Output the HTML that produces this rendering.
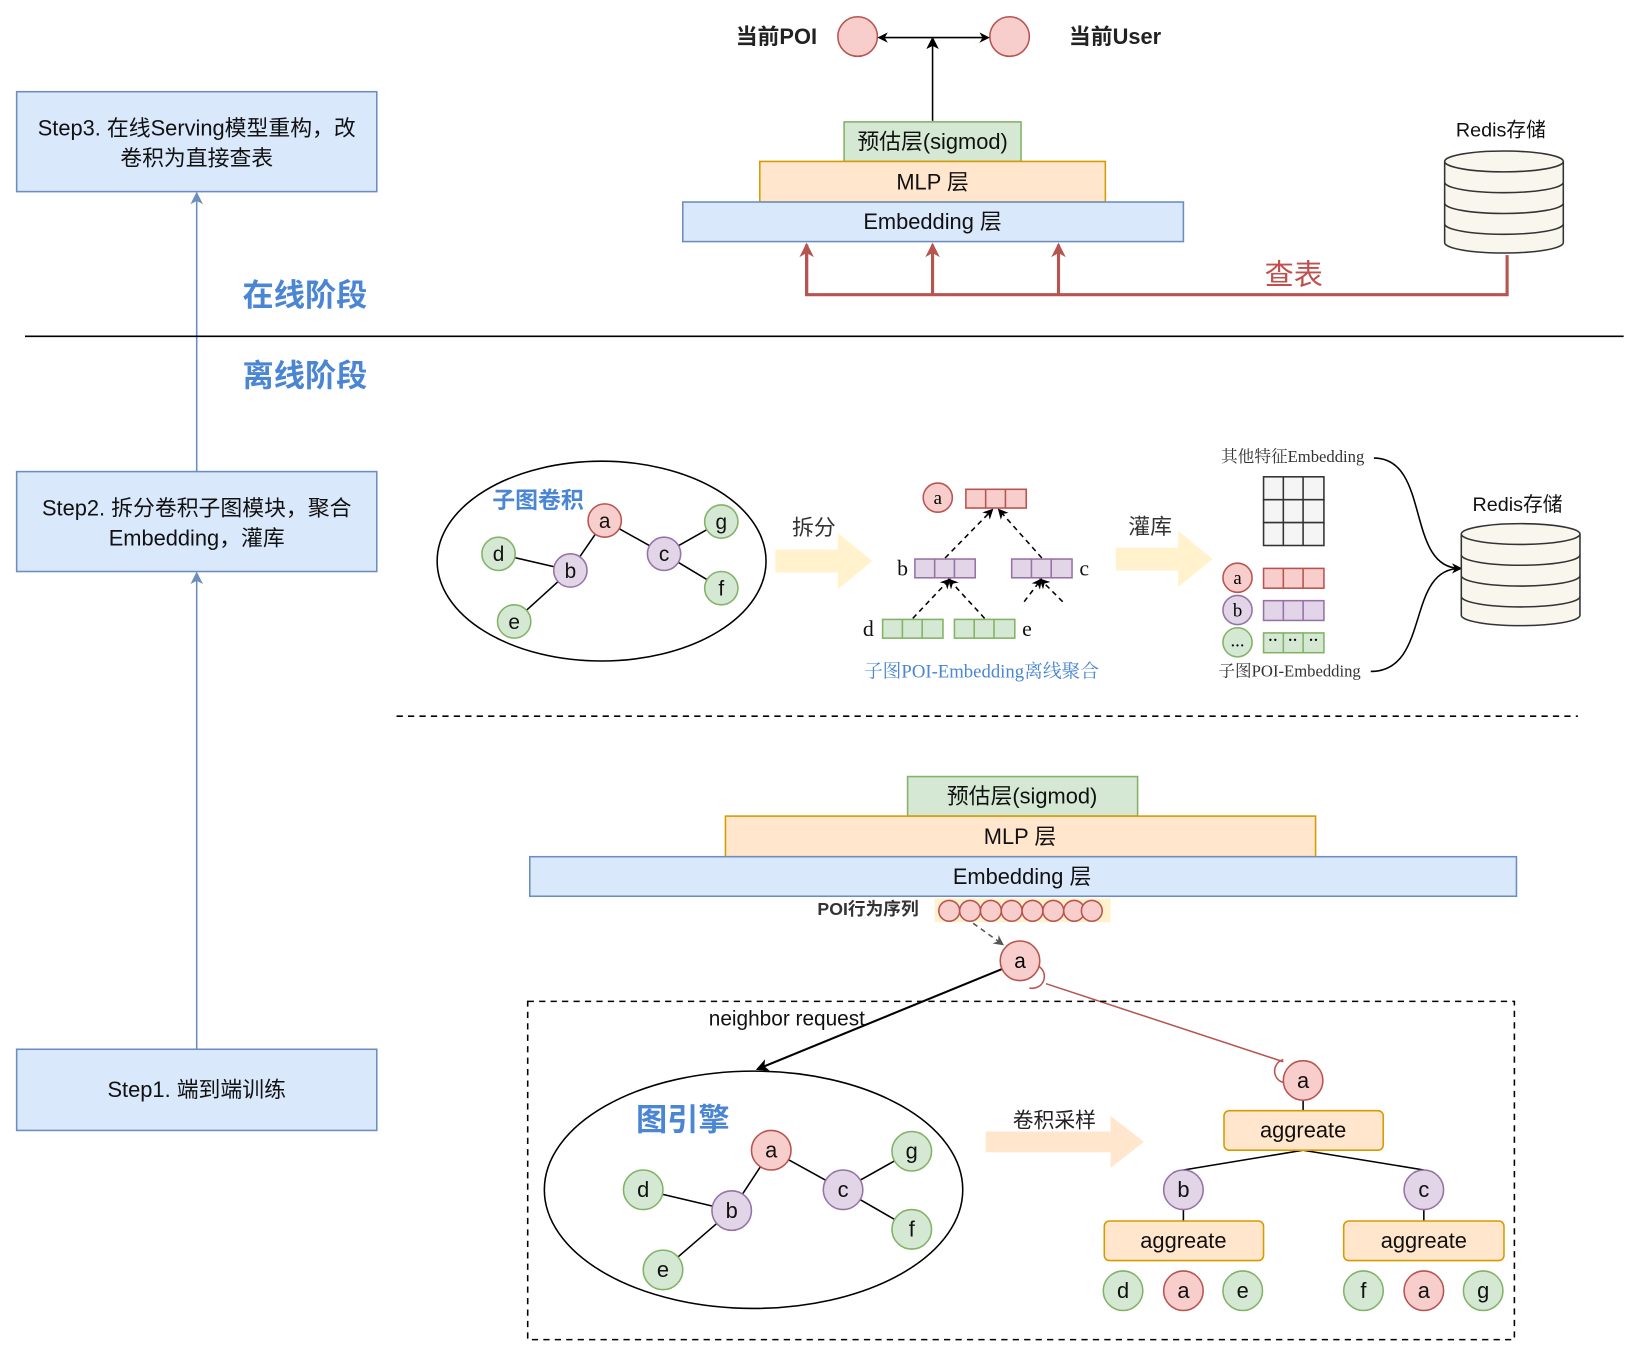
<!DOCTYPE html>
<html><head><meta charset="utf-8"><style>html,body{margin:0;padding:0;background:#fff}svg{display:block}</style></head><body>
<svg width="1632" height="1346" viewBox="0 0 1568 1293" xmlns="http://www.w3.org/2000/svg" font-family="Liberation Sans, Noto Sans CJK SC, sans-serif">
<defs>
<marker id="ab" markerWidth="10" markerHeight="10" refX="8" refY="5" orient="auto" markerUnits="userSpaceOnUse"><path d="M0,0 L10,5 L0,10 L3,5z" fill="#000"/></marker>
<marker id="ab2" markerWidth="12" markerHeight="12" refX="10" refY="6" orient="auto" markerUnits="userSpaceOnUse"><path d="M0,0 L12,6 L0,12 L3,6z" fill="#000"/></marker>
<marker id="ag" markerWidth="10" markerHeight="10" refX="8" refY="5" orient="auto" markerUnits="userSpaceOnUse"><path d="M0,0 L10,5 L0,10 L3,5z" fill="#555"/></marker>
<marker id="abl" markerWidth="12" markerHeight="12" refX="10" refY="6" orient="auto" markerUnits="userSpaceOnUse"><path d="M0,0 L12,6 L0,12 L3,6z" fill="#6c8ebf"/></marker>
<marker id="ar" markerWidth="14" markerHeight="14" refX="12" refY="7" orient="auto" markerUnits="userSpaceOnUse"><path d="M0,0 L14,7 L0,14 L4,7z" fill="#b85450"/></marker>
</defs>
<g stroke="#6c8ebf" stroke-width="1.5" fill="#dae8fc">
<rect x="16" y="88" width="346" height="96"/><rect x="16" y="453" width="346" height="96"/><rect x="16" y="1008" width="346" height="78"/>
</g>
<line x1="189" y1="1008" x2="189" y2="551" stroke="#6c8ebf" stroke-width="1.5" marker-end="url(#abl)"/>
<line x1="189" y1="453" x2="189" y2="186" stroke="#6c8ebf" stroke-width="1.5" marker-end="url(#abl)"/>
<g font-size="21" fill="#111" text-anchor="middle">
<text x="189" y="130">Step3. 在线Serving模型重构，改</text><text x="189" y="159">卷积为直接查表</text>
<text x="189" y="495">Step2. 拆分卷积子图模块，聚合</text><text x="189" y="524">Embedding，灌库</text>
<text x="189" y="1054">Step1. 端到端训练</text>
</g>
<g font-size="30" font-weight="bold" fill="#4a86d4"><text x="233" y="294">在线阶段</text><text x="233" y="371">离线阶段</text></g>
<line x1="24" y1="323" x2="1560" y2="323" stroke="#000" stroke-width="1.5"/>
<g fill="#f8cecc" stroke="#b85450" stroke-width="1.5"><circle cx="824" cy="35" r="19"/><circle cx="970" cy="35" r="19"/></g>
<line x1="896" y1="36" x2="845" y2="36" stroke="#000" stroke-width="1.5" marker-end="url(#ab)"/>
<line x1="896" y1="36" x2="949" y2="36" stroke="#000" stroke-width="1.5" marker-end="url(#ab)"/>
<line x1="896" y1="116" x2="896" y2="37" stroke="#000" stroke-width="1.5" marker-end="url(#ab2)"/>
<g font-size="21" font-weight="bold" fill="#222"><text x="785" y="42" text-anchor="end">当前POI</text><text x="1027" y="42">当前User</text></g>
<rect x="811" y="117" width="170" height="38" fill="#d5e8d4" stroke="#82b366" stroke-width="1.5"/>
<rect x="730" y="155" width="332" height="39" fill="#ffe6cc" stroke="#d79b00" stroke-width="1.5"/>
<rect x="656" y="194" width="481" height="38" fill="#dae8fc" stroke="#6c8ebf" stroke-width="1.5"/>
<g font-size="21" fill="#111" text-anchor="middle"><text x="896" y="143">预估层(sigmod)</text><text x="896" y="182">MLP 层</text><text x="896" y="220">Embedding 层</text></g>
<g stroke="#b85450" stroke-width="3" fill="none">
<polyline points="775,235 775,283 1448,283 1448,245"/>
<line x1="896" y1="283" x2="896" y2="235" marker-end="url(#ar)"/>
<line x1="1017" y1="283" x2="1017" y2="235" marker-end="url(#ar)"/>
<line x1="775" y1="283" x2="775" y2="235" marker-end="url(#ar)"/>
</g>
<text x="1243" y="273" font-size="28" fill="#c0504d" text-anchor="middle">查表</text>
<g fill="#f9f7ed" stroke="#333" stroke-width="1.5">
<path d="M1388,155 v78 a57,10 0 0 0 114,0 v-78"/><ellipse cx="1445" cy="155" rx="57" ry="10"/>
<path d="M1388,175 a57,10 0 0 0 114,0 M1388,195 a57,10 0 0 0 114,0 M1388,215 a57,10 0 0 0 114,0" fill="none"/>
</g>
<text x="1442" y="131" font-size="19" text-anchor="middle" fill="#111">Redis存储</text>
<ellipse cx="578" cy="539" rx="158" ry="96" fill="none" stroke="#000" stroke-width="1.5"/>
<text x="473" y="488" font-size="22" font-weight="bold" fill="#4a86d4">子图卷积</text>
<g stroke="#000" stroke-width="1.5"><line x1="581" y1="500" x2="548" y2="548"/><line x1="581" y1="500" x2="638" y2="532"/><line x1="548" y1="548" x2="479" y2="532"/><line x1="548" y1="548" x2="494" y2="597"/><line x1="638" y1="532" x2="693" y2="501"/><line x1="638" y1="532" x2="693" y2="565"/></g>
<g stroke-width="1.5">
<circle cx="581" cy="500" r="16" fill="#f8cecc" stroke="#b85450"/>
<circle cx="548" cy="548" r="16" fill="#e1d5e7" stroke="#9673a6"/><circle cx="638" cy="532" r="16" fill="#e1d5e7" stroke="#9673a6"/>
<circle cx="479" cy="532" r="16" fill="#d5e8d4" stroke="#82b366"/><circle cx="494" cy="597" r="16" fill="#d5e8d4" stroke="#82b366"/><circle cx="693" cy="565" r="16" fill="#d5e8d4" stroke="#82b366"/><circle cx="693" cy="501" r="16" fill="#d5e8d4" stroke="#82b366"/>
</g>
<g font-size="20" text-anchor="middle" fill="#111"><text x="581" y="507">a</text><text x="548" y="555">b</text><text x="638" y="539">c</text><text x="479" y="539">d</text><text x="494" y="604">e</text><text x="693" y="572">f</text><text x="693" y="508">g</text></g>
<path d="M745,528 h60 v-16 l33,27 l-33,27 v-16 h-60z" fill="#fff2cc"/>
<path d="M1072,526 h60 v-16 l33,27 l-33,27 v-16 h-60z" fill="#fff2cc"/>
<g font-size="21" fill="#333"><text x="761" y="514">拆分</text><text x="1084" y="513">灌库</text></g>
<g font-family="Liberation Serif, Noto Serif CJK SC, serif">
<circle cx="901" cy="478" r="14" fill="#f8cecc" stroke="#b85450" stroke-width="1.5"/><text x="901" y="484" font-size="18" text-anchor="middle">a</text>
<g stroke-width="1.5">
<rect x="928" y="470" width="58" height="18" fill="#f8cecc" stroke="#b85450"/><path d="M947,470v18M966,470v18" stroke="#b85450"/>
<rect x="879" y="537" width="58" height="18" fill="#e1d5e7" stroke="#9673a6"/><path d="M898,537v18M917,537v18" stroke="#9673a6"/>
<rect x="972" y="537" width="58" height="18" fill="#e1d5e7" stroke="#9673a6"/><path d="M991,537v18M1010,537v18" stroke="#9673a6"/>
<rect x="848" y="595" width="58" height="18" fill="#d5e8d4" stroke="#82b366"/><path d="M867,595v18M886,595v18" stroke="#82b366"/>
<rect x="917" y="595" width="58" height="18" fill="#d5e8d4" stroke="#82b366"/><path d="M936,595v18M955,595v18" stroke="#82b366"/>
</g>
<g stroke="#000" stroke-width="1.5" stroke-dasharray="5,4">
<line x1="908" y1="536" x2="953" y2="490" marker-end="url(#ab)"/><line x1="1001" y1="536" x2="960" y2="490" marker-end="url(#ab)"/>
<line x1="877" y1="594" x2="912" y2="557" marker-end="url(#ab)"/><line x1="946" y1="594" x2="912" y2="557" marker-end="url(#ab)"/>
<line x1="984" y1="578" x2="1000" y2="557" marker-end="url(#ab)"/><line x1="1021" y1="578" x2="1000" y2="557" marker-end="url(#ab)"/>
</g>
<g font-size="21" fill="#111"><text x="862" y="553">b</text><text x="1037" y="553">c</text><text x="829" y="611">d</text><text x="982" y="611">e</text></g>
<text x="943" y="651" font-size="18" fill="#4a86d4" text-anchor="middle">子图POI-Embedding离线聚合</text>
<text x="1242" y="444" font-size="16" fill="#333" text-anchor="middle">其他特征Embedding</text>
<text x="1239" y="650" font-size="16" fill="#333" text-anchor="middle">子图POI-Embedding</text>
<g fill="#f5f5f5" stroke="#333" stroke-width="1.5"><rect x="1214" y="458" width="58" height="22"/><rect x="1214" y="480" width="58" height="22"/><rect x="1214" y="502" width="58" height="22"/><path d="M1233,458v66M1252,458v66" fill="none"/></g>
<g stroke-width="1.5">
<circle cx="1189" cy="555" r="14" fill="#f8cecc" stroke="#b85450"/><circle cx="1189" cy="586" r="14" fill="#e1d5e7" stroke="#9673a6"/><circle cx="1189" cy="617" r="14" fill="#d5e8d4" stroke="#82b366"/>
<rect x="1214" y="546" width="58" height="19" fill="#f8cecc" stroke="#b85450"/><path d="M1233,546v19M1252,546v19" stroke="#b85450"/>
<rect x="1214" y="577" width="58" height="19" fill="#e1d5e7" stroke="#9673a6"/><path d="M1233,577v19M1252,577v19" stroke="#9673a6"/>
<rect x="1214" y="608" width="58" height="19" fill="#d5e8d4" stroke="#82b366"/><path d="M1233,608v19M1252,608v19" stroke="#82b366"/>
</g>
<g font-size="18" text-anchor="middle"><text x="1189" y="561">a</text><text x="1189" y="592">b</text><text x="1189" y="621">...</text><text x="1223" y="619" font-size="14" font-weight="bold">··</text><text x="1242" y="619" font-size="14" font-weight="bold">··</text><text x="1262" y="619" font-size="14" font-weight="bold">··</text></g>
</g>
<path d="M1320,440 C1375,440 1350,546 1403,546" fill="none" stroke="#000" stroke-width="1.5" marker-end="url(#ab)"/>
<path d="M1317,645 C1375,645 1350,546 1403,546" fill="none" stroke="#000" stroke-width="1.5"/>
<g fill="#f9f7ed" stroke="#333" stroke-width="1.5">
<path d="M1404,513 v78 a57,10 0 0 0 114,0 v-78"/><ellipse cx="1461" cy="513" rx="57" ry="10"/>
<path d="M1404,533 a57,10 0 0 0 114,0 M1404,553 a57,10 0 0 0 114,0 M1404,573 a57,10 0 0 0 114,0" fill="none"/>
</g>
<text x="1458" y="491" font-size="19" text-anchor="middle" fill="#111">Redis存储</text>
<line x1="381" y1="688" x2="1516" y2="688" stroke="#000" stroke-width="1.5" stroke-dasharray="6,5"/>
<rect x="872" y="746" width="221" height="38" fill="#d5e8d4" stroke="#82b366" stroke-width="1.5"/>
<rect x="697" y="784" width="567" height="39" fill="#ffe6cc" stroke="#d79b00" stroke-width="1.5"/>
<rect x="509" y="823" width="948" height="38" fill="#dae8fc" stroke="#6c8ebf" stroke-width="1.5"/>
<g font-size="21" fill="#111" text-anchor="middle"><text x="982" y="772">预估层(sigmod)</text><text x="980" y="811">MLP 层</text><text x="982" y="849">Embedding 层</text></g>
<text x="834" y="879" font-size="17" font-weight="bold" fill="#333" text-anchor="middle">POI行为序列</text>
<rect x="898" y="863" width="169" height="23" fill="#fff2cc"/>
<g fill="#f8cecc" stroke="#b85450" stroke-width="1.5">
<circle cx="912" cy="875" r="10"/><circle cx="932" cy="875" r="10"/><circle cx="952" cy="875" r="10"/><circle cx="972" cy="875" r="10"/><circle cx="992" cy="875" r="10"/><circle cx="1012" cy="875" r="10"/><circle cx="1032" cy="875" r="10"/><circle cx="1049" cy="875" r="10"/>
</g>
<line x1="935" y1="887" x2="963" y2="907" stroke="#555" stroke-width="1.5" stroke-dasharray="5,4" marker-end="url(#ag)"/>
<line x1="965" y1="930" x2="728" y2="1027" stroke="#000" stroke-width="2" marker-end="url(#ab2)"/>
<line x1="1005" y1="945" x2="1233" y2="1020" stroke="#b85450" stroke-width="1.5"/>
<path d="M995,927 a10,10 0 0 1 -6,22" fill="none" stroke="#b85450" stroke-width="1.5"/>
<path d="M1233,1018 a10,10 0 0 0 6,22" fill="none" stroke="#b85450" stroke-width="1.5"/>
<circle cx="980" cy="923" r="19" fill="#f8cecc" stroke="#b85450" stroke-width="1.5"/><text x="980" y="930" font-size="20" text-anchor="middle">a</text>
<rect x="507" y="962" width="948" height="325" fill="none" stroke="#000" stroke-width="1.5" stroke-dasharray="6,5"/>
<text x="756" y="985" font-size="20" text-anchor="middle" fill="#111">neighbor request</text>
<ellipse cx="724" cy="1143" rx="201" ry="114" fill="none" stroke="#000" stroke-width="1.5"/>
<text x="611" y="1086" font-size="30" font-weight="bold" fill="#4a86d4">图引擎</text>
<g stroke="#000" stroke-width="1.5"><line x1="741" y1="1105" x2="703" y2="1163"/><line x1="741" y1="1105" x2="810" y2="1143"/><line x1="703" y1="1163" x2="618" y2="1143"/><line x1="703" y1="1163" x2="637" y2="1220"/><line x1="810" y1="1143" x2="876" y2="1106"/><line x1="810" y1="1143" x2="876" y2="1181"/></g>
<path d="M947,1087 h120 v-15 l32,25 l-32,25 v-15 h-120z" fill="#ffe6cc"/>
<text x="1013" y="1083" font-size="20" text-anchor="middle" fill="#222">卷积采样</text>
<g stroke="#000" stroke-width="1.5"><line x1="1252" y1="1057" x2="1252" y2="1067"/><line x1="1252" y1="1105" x2="1137" y2="1124"/><line x1="1252" y1="1105" x2="1368" y2="1124"/><line x1="1137" y1="1162" x2="1137" y2="1173"/><line x1="1368" y1="1162" x2="1368" y2="1173"/></g>
<g fill="#ffe6cc" stroke="#d79b00" stroke-width="1.5"><rect x="1176" y="1067" width="153" height="38" rx="5"/><rect x="1061" y="1173" width="153" height="38" rx="5"/><rect x="1291" y="1173" width="154" height="38" rx="5"/></g>
<g font-size="21" text-anchor="middle" fill="#111"><text x="1252" y="1093">aggreate</text><text x="1137" y="1199">aggreate</text><text x="1368" y="1199">aggreate</text></g>
<g stroke-width="1.5">
<circle cx="741" cy="1105" r="19" fill="#f8cecc" stroke="#b85450"/><circle cx="703" cy="1163" r="19" fill="#e1d5e7" stroke="#9673a6"/><circle cx="810" cy="1143" r="19" fill="#e1d5e7" stroke="#9673a6"/>
<circle cx="618" cy="1143" r="19" fill="#d5e8d4" stroke="#82b366"/><circle cx="637" cy="1220" r="19" fill="#d5e8d4" stroke="#82b366"/><circle cx="876" cy="1181" r="19" fill="#d5e8d4" stroke="#82b366"/><circle cx="876" cy="1106" r="19" fill="#d5e8d4" stroke="#82b366"/>
<circle cx="1252" cy="1038" r="19" fill="#f8cecc" stroke="#b85450"/><circle cx="1137" cy="1143" r="19" fill="#e1d5e7" stroke="#9673a6"/><circle cx="1368" cy="1143" r="19" fill="#e1d5e7" stroke="#9673a6"/>
<circle cx="1079" cy="1240" r="19" fill="#d5e8d4" stroke="#82b366"/><circle cx="1137" cy="1240" r="19" fill="#f8cecc" stroke="#b85450"/><circle cx="1194" cy="1240" r="19" fill="#d5e8d4" stroke="#82b366"/>
<circle cx="1310" cy="1240" r="19" fill="#d5e8d4" stroke="#82b366"/><circle cx="1368" cy="1240" r="19" fill="#f8cecc" stroke="#b85450"/><circle cx="1425" cy="1240" r="19" fill="#d5e8d4" stroke="#82b366"/>
</g>
<g font-size="21" text-anchor="middle" fill="#111">
<text x="741" y="1112">a</text><text x="703" y="1170">b</text><text x="810" y="1150">c</text><text x="618" y="1150">d</text><text x="637" y="1227">e</text><text x="876" y="1188">f</text><text x="876" y="1113">g</text>
<text x="1252" y="1045">a</text><text x="1137" y="1150">b</text><text x="1368" y="1150">c</text>
<text x="1079" y="1247">d</text><text x="1137" y="1247">a</text><text x="1194" y="1247">e</text><text x="1310" y="1247">f</text><text x="1368" y="1247">a</text><text x="1425" y="1247">g</text>
</g>
</svg>
</body></html>
